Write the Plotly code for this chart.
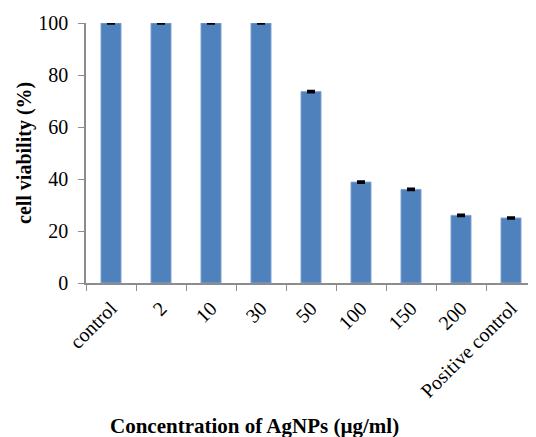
import plotly.graph_objects as go

categories = ["control", "2", "10", "30", "50", "100", "150", "200", "Positive control"]
viability = [100, 100, 100, 100, 73.6, 38.8, 36.0, 26.0, 25.0]
errors = [0.3, 0.3, 0.3, 0.3, 0.3, 0.3, 0.3, 0.3, 0.3]

# page body has an 8px margin; figure occupies (8,8)-(536,437)
OFF = 8
PL, PR, PT, PB = 86, 536, 23, 283  # plot area in window pixels
W, H = 536 - OFF, 437 - OFF

fig = go.Figure()
fig.add_trace(go.Bar(
    x=categories, y=viability,
    marker=dict(color="#4F81BD", line=dict(color="#7FA3D3", width=1)),
    error_y=dict(type="data", array=errors, color="black", thickness=2, width=4),
))

font = "Liberation Serif, Times New Roman, serif"
pw, ph = PR - PL, PB - PT
fig.update_layout(
    width=W, height=H,
    margin=dict(l=PL - OFF, r=536 - PR, t=PT - OFF, b=437 - PB, autoexpand=False),
    plot_bgcolor="white", paper_bgcolor="white",
    bargap=0.6, showlegend=False,
    font=dict(family=font, size=20, color="black"),
    xaxis=dict(
        showline=True, linecolor="#8c8c8c", linewidth=1.5,
        ticks="outside", tickson="boundaries", ticklen=6, tickcolor="#8c8c8c",
        tickangle=-45, tickfont=dict(family=font, size=20), ticklabelstandoff=4,
        showgrid=False,
    ),
    yaxis=dict(
        range=[0, 100], dtick=20,
        showline=True, linecolor="#8c8c8c", linewidth=1.5,
        ticks="outside", ticklen=6, tickcolor="#8c8c8c",
        tickfont=dict(family=font, size=20), ticklabelstandoff=6,
        showgrid=False, zeroline=False,
    ),
    annotations=[
        dict(
            text="<b>Concentration of AgNPs (µg/ml)</b>",
            xref="paper", yref="paper", x=(254 - PL) / pw, y=-(426 - PB) / ph,
            xanchor="center", yanchor="middle", showarrow=False,
            font=dict(family=font, size=21),
        ),
        dict(
            text="<b>cell viability (%)</b>",
            xref="paper", yref="paper", x=(24 - PL) / pw, y=(PB - 153) / ph,
            xanchor="center", yanchor="middle", showarrow=False, textangle=-90,
            font=dict(family=font, size=20),
        ),
    ],
)

fig.write_html("out.html")
